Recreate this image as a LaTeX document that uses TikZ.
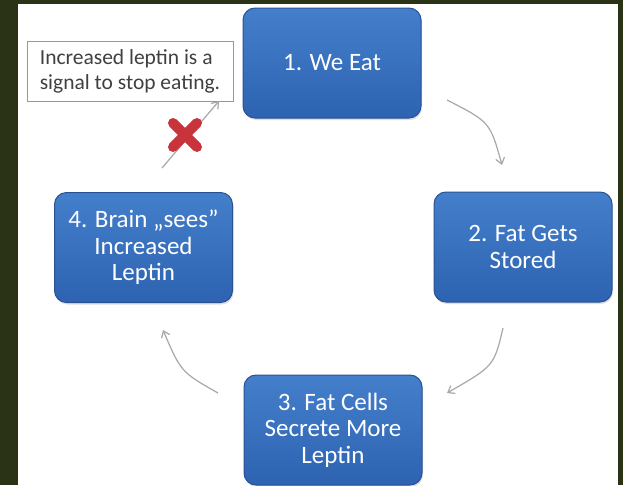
\documentclass[tikz,border=0pt]{standalone}
\usepackage{fontspec}
\setmainfont{Carlito}
\usetikzlibrary{arrows.meta,shadows,calc}
\definecolor{frameclr}{HTML}{2B3317}
\definecolor{boxtop}{HTML}{447FCC}
\definecolor{boxbot}{HTML}{2D63B0}
\definecolor{boxline}{HTML}{285294}
\definecolor{arrowgray}{HTML}{A8A8A8}
\definecolor{calloutline}{HTML}{A09494}
\definecolor{callouttext}{HTML}{404040}
\definecolor{crossred}{HTML}{C9343C}
\tikzset{
  stepbox/.style={draw=boxline, line width=1pt, rounded corners=12pt,
    top color=boxtop, bottom color=boxbot, text=white,
    minimum width=178pt, minimum height=110pt, align=center,
    font=\fontsize{25}{26.5}\selectfont, inner sep=2pt,
    drop shadow={shadow xshift=1pt, shadow yshift=-2pt, opacity=0.25}},
  callout/.style={draw=calloutline, line width=1pt, fill=white, text=callouttext,
    minimum width=206pt, minimum height=60pt, align=left,
    font=\fontsize{21.5}{25}\selectfont, inner sep=2pt},
  flow/.style={draw=arrowgray, line width=1.2pt,
    -{Straight Barb[length=6pt,width=9pt]}},
  crossbar/.style={draw=crossred, line width=10pt, line cap=round}
}
\begin{document}
\begin{tikzpicture}[x=1pt,y=-1pt]
\useasboundingbox (0,0) rectangle (623,485);
\fill[frameclr] (0,0) rectangle (623,485);
\fill[white] (18,4) rectangle (618,485);

\node[stepbox] (b1) at (332,63) {1. We Eat};
\node[stepbox] (b2) at (523,247) {2. Fat Gets\\Stored};
\node[stepbox] (b3) at (333,430) {3. Fat Cells\\Secrete More\\Leptin};
\node[stepbox] (b4) at (143.5,247.5) {4. Brain „sees”\\Increased\\Leptin};
\node[callout] (note) at (130,71) {Increased leptin is a\\signal to stop eating.};

\coordinate (a12s) at (447,100);
\coordinate (a12e) at (502,165);
\coordinate (a23s) at (503,328);
\coordinate (a23e) at (447,393);
\coordinate (a34s) at (218,393);
\coordinate (a34e) at (163,330);
\coordinate (a41s) at (162,168);
\coordinate (a41e) at (219,101);

\draw[flow] (a12s) .. controls (490,122) .. (a12e);
\draw[flow] (a23s) .. controls (494,366) .. (a23e);
\draw[flow] (a34s) .. controls (181,372) .. (a34e);
\draw[flow] (a41s) -- (a41e);

\coordinate (xc) at (185,135);
\draw[crossbar] ($(xc)+(-12,-12)$) -- ($(xc)+(12,12)$);
\draw[crossbar] ($(xc)+(12,-12)$) -- ($(xc)+(-12,12)$);
\end{tikzpicture}
\end{document}
